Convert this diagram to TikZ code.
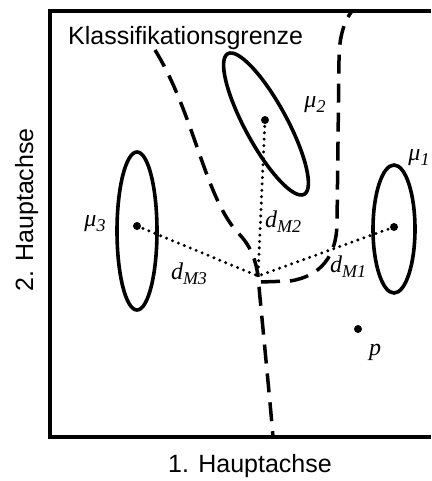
\documentclass[tikz,border=0pt]{standalone}
\usepackage{fontspec}
\setmainfont{Liberation Sans}
\newfontfamily\serifit[ItalicFont={Liberation Serif Italic}]{Liberation Serif}
\newcommand{\symlab}[2]{{\serifit\itshape\fontsize{24}{26}\selectfont #1\raisebox{-0.2em}{\fontsize{18}{18}\selectfont #2}}}
\usetikzlibrary{calc}

\begin{document}
\begin{tikzpicture}[x=1pt, y=-1pt,
    achse/.style={line width=3.5pt},
    cluster/.style={line width=3.6pt},
    grenze/.style={line width=3.5pt, dash pattern=on 19pt off 10pt},
    abstand/.style={line width=3.3pt, line cap=round, dash pattern=on 0pt off 6.4pt},
    beschr/.style={font=\fontsize{25}{28}\selectfont, inner sep=0pt},
    symb/.style={inner sep=0pt}]
\useasboundingbox (0,0) rectangle (431,481);

% === Achsen (rechts offen) ===
\draw[achse] (431,11) -- (50,11) -- (50,437) -- (431,437);
\node[beschr, anchor=base] (xachse) at (250,472) {1. Hauptachse};
\node[beschr, anchor=base, rotate=90] (yachse) at (33,210) {2. Hauptachse};

% === Klassenverteilungen ===
\draw[cluster] (137,231) ellipse (20 and 79);
\draw[cluster, rotate around={-61.5:(266,124)}] (266,124) ellipse (80 and 21);
\draw[cluster] (394,229) ellipse (21 and 64);

% === Klassifikationsgrenze ===
\draw[grenze]
    (155,50) .. controls (195,115) and (205,200) .. (240,235)
    .. controls (252,248) and (256,262) .. (258,276)
    .. controls (262,320) and (270,400) .. (273,437);
\draw[grenze]
    (261,282) -- (290,281) .. controls (322,276) and (336,255) .. (337,225)
    -- (339,60) .. controls (339,35) and (345,20) .. (352,11);
\node[beschr, anchor=base west] (grenzlabel) at (68,45) {Klassifikationsgrenze};

% === Klassenzentren und Testpunkt ===
\coordinate (mu1) at (394,227);
\coordinate (mu2) at (265,120);
\coordinate (mu3) at (137,226);
\coordinate (x) at (258,276);
\coordinate (p) at (358,329);

% Mahalanobis-Abstaende
\draw[abstand] (mu1) -- (x);
\draw[abstand] (mu2) -- (x);
\draw[abstand] (mu3) -- (x);

\fill (mu1) circle (4pt);
\fill (mu2) circle (4pt);
\fill (mu3) circle (4pt);
\fill (p) circle (4pt);

% Beschriftungen
\node[symb] (lmu1) at (419,158) {\symlab{μ}{1}};
\node[symb] (lmu2) at (315,105) {\symlab{μ}{2}};
\node[symb] (lmu3) at (95,224) {\symlab{μ}{3}};
\node[symb] (ldm1) at (348,267) {\symlab{d}{M1}};
\node[symb] (ldm2) at (283,222) {\symlab{d}{M2}};
\node[symb] (ldm3) at (189,274) {\symlab{d}{M3}};
\node[symb] (lp) at (375,352) {\symlab{p}{}};

\end{tikzpicture}
\end{document}
